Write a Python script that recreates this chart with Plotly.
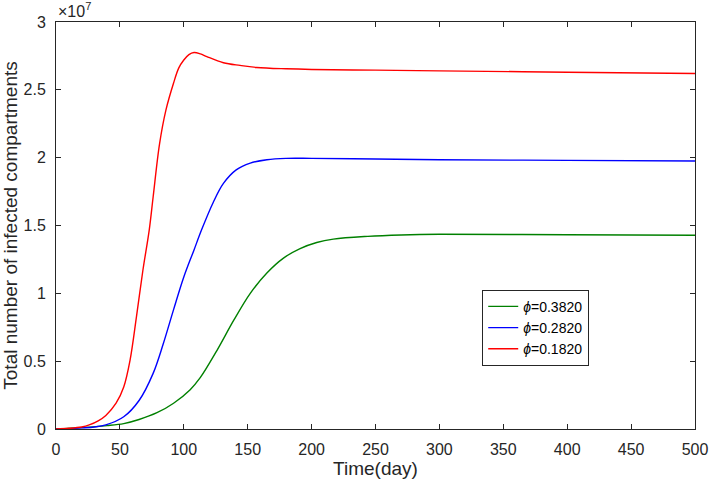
import plotly.graph_objects as go

# ----------------------------------- Data (units of 1e7) -----------------------------------
t_red = [0, 10, 20, 26, 33, 39, 47, 53, 58, 63, 68, 73, 76, 81, 86, 92, 96, 100, 104, 108, 113, 118, 131, 144, 157,
         180, 200, 250, 300, 400, 500]
v_red = [0, 0.005, 0.015, 0.03, 0.06, 0.10, 0.19, 0.31, 0.51, 0.83, 1.17, 1.47, 1.71, 2.10, 2.35, 2.55, 2.66, 2.72,
         2.76, 2.775, 2.765, 2.745, 2.70, 2.68, 2.665, 2.655, 2.65, 2.645, 2.64, 2.63, 2.62]

t_blue = [0, 10, 20, 30, 39, 53, 65, 76, 84, 92, 100, 108, 114, 123, 131, 141, 152, 165, 180, 200, 250, 300, 400, 500]
v_blue = [0, 0.003, 0.008, 0.015, 0.03, 0.09, 0.21, 0.41, 0.63, 0.88, 1.12, 1.32, 1.47, 1.67, 1.81, 1.91, 1.96, 1.985,
          1.995, 1.995, 1.99, 1.985, 1.98, 1.975]

t_green = [0, 20, 40, 53, 65, 79, 92, 105, 113, 126, 139, 152, 165, 178, 191, 204, 217, 244, 270, 300, 400, 500]
v_green = [0, 0.01, 0.025, 0.04, 0.07, 0.12, 0.19, 0.29, 0.38, 0.58, 0.80, 1.0, 1.15, 1.26, 1.33, 1.375, 1.40, 1.42,
           1.43, 1.435, 1.432, 1.428]

series = [
    ("<i>ϕ</i>=0.3820", t_green, v_green, "#008000"),
    ("<i>ϕ</i>=0.2820", t_blue, v_blue, "#0000ff"),
    ("<i>ϕ</i>=0.1820", t_red, v_red, "#ff0000"),
]

y_ticks = [0, 0.5, 1, 1.5, 2, 2.5, 3]
y_labels = ["0", "0.5", "1", "1.5", "2", "2.5", "3"]

FONT = "Liberation Sans, Arial"
INK = "#262626"

# ----------------------------------- Plot -----------------------------------
fig = go.Figure()
for name, t, v, color in series:
    fig.add_trace(go.Scatter(
        x=t, y=[val * 1e7 for val in v],
        mode="lines", name=name,
        line=dict(color=color, width=1.4, shape="spline", smoothing=1.0),
    ))

axis_style = dict(
    showline=True, linecolor=INK, linewidth=1, mirror="ticks",
    ticks="inside", ticklen=5, tickcolor=INK,
    showgrid=False, zeroline=False, automargin=False,
    tickfont=dict(family=FONT, size=16, color=INK),
)

fig.update_xaxes(range=[0, 500], dtick=50, tick0=0, ticklabelstandoff=6,
                 title=dict(text="Time(day)", standoff=2,
                            font=dict(family=FONT, size=19, color=INK)),
                 **axis_style)
fig.update_yaxes(range=[0, 3e7], tickvals=[v * 1e7 for v in y_ticks], ticktext=y_labels,
                 ticklabelstandoff=6,
                 title=dict(text="Total number of infected compartments", standoff=6,
                            font=dict(family=FONT, size=19, color=INK)),
                 **axis_style)

fig.update_layout(
    width=709, height=482,
    margin=dict(l=56, r=14, t=22, b=53),
    plot_bgcolor="white", paper_bgcolor="white",
    showlegend=True,
    legend=dict(
        x=0.667, y=0.342, xanchor="left", yanchor="top",
        bordercolor=INK, borderwidth=1, bgcolor="white",
        font=dict(family=FONT, size=14, color="#000000"),
        tracegroupgap=0, entrywidth=120, entrywidthmode="pixels",
    ),
    annotations=[dict(
        text="×10<sup>7</sup>", xref="paper", yref="paper", x=0, y=1.0,
        xanchor="left", yanchor="bottom", showarrow=False,
        font=dict(family=FONT, size=16, color=INK),
    )],
)

# drop the default page margin so the figure sits at the window's corner
fig.write_html("out.html", config={"displayModeBar": False},
               post_script="document.body.style.margin = '0';")
